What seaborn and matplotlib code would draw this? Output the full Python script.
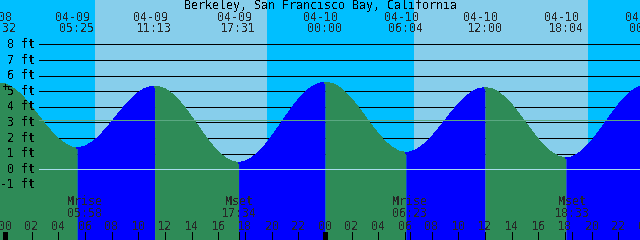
import numpy as np
import pandas as pd
import matplotlib
matplotlib.use("Agg")
import matplotlib.pyplot as plt
import seaborn as sns

# ---------------- data ----------------
title = "Berkeley, San Francisco Bay, California"

# tide level sampled every half hour, hours from 2023-04-09 00:00
hours = [-0.5, 0.0, 0.5, 1.0, 1.5, 2.0, 2.5, 3.0, 3.5, 4.0, 4.5, 5.0, 5.5, 6.0, 6.5, 7.0,
         7.5, 8.0, 8.5, 9.0, 9.5, 10.0, 10.5, 11.0, 11.5, 12.0, 12.5, 13.0, 13.5, 14.0,
         14.5, 15.0, 15.5, 16.0, 16.5, 17.0, 17.5, 18.0, 18.5, 19.0, 19.5, 20.0, 20.5,
         21.0, 21.5, 22.0, 22.5, 23.0, 23.5, 24.0, 24.5, 25.0, 25.5, 26.0, 26.5, 27.0,
         27.5, 28.0, 28.5, 29.0, 29.5, 30.0, 30.5, 31.0, 31.5, 32.0, 32.5, 33.0, 33.5,
         34.0, 34.5, 35.0, 35.5, 36.0, 36.5, 37.0, 37.5, 38.0, 38.5, 39.0, 39.5, 40.0,
         40.5, 41.0, 41.5, 42.0, 42.5, 43.0, 43.5, 44.0, 44.5, 45.0, 45.5, 46.0, 46.5,
         47.0, 47.5, 48.0]
level_ft = [5.50, 5.44, 5.23, 4.89, 4.46, 3.95, 3.40, 2.85, 2.35, 1.92, 1.60, 1.40, 1.35,
            1.45, 1.68, 2.03, 2.48, 2.99, 3.52, 4.04, 4.50, 4.88, 5.15, 5.29, 5.28, 5.12,
            4.82, 4.40, 3.88, 3.30, 2.69, 2.09, 1.54, 1.07, 0.71, 0.48, 0.40, 0.47, 0.69,
            1.04, 1.50, 2.05, 2.65, 3.27, 3.88, 4.43, 4.90, 5.25, 5.47, 5.55, 5.48, 5.26,
            4.91, 4.45, 3.92, 3.34, 2.76, 2.22, 1.75, 1.39, 1.15, 1.05, 1.10, 1.30, 1.62,
            2.04, 2.55, 3.09, 3.63, 4.14, 4.58, 4.92, 5.13, 5.20, 5.13, 4.91, 4.56, 4.10,
            3.57, 2.99, 2.41, 1.87, 1.40, 1.04, 0.80, 0.70, 0.76, 0.97, 1.32, 1.78, 2.33,
            2.92, 3.52, 4.09, 4.59, 4.98, 5.24, 5.35]

# high / low tides
ext_hours = [-0.467, 5.417, 11.217, 17.517, 24.0, 30.067, 36.0, 42.067, 48.1]
ext_level = [5.50, 1.35, 5.30, 0.40, 5.55, 1.05, 5.20, 0.70, 5.35]
ext_dates = ["04-08", "04-09", "04-09", "04-09", "04-10", "04-10", "04-10", "04-10", "04-11"]
ext_times = ["23:32", "05:25", "11:13", "17:31", "00:00", "06:04", "12:00", "18:04", "00:06"]

# moon events
moon_hours = [5.967, 17.567, 30.383, 42.55]
moon_names = ["Mrise", "Mset", "Mrise", "Mset"]
moon_times = ["05:58", "17:34", "06:23", "18:33"]

# daylight
sunrise_hours = [6.75, 30.68]
sunset_hours = [19.65, 43.73]

# axis
tick_hours = list(range(0, 49, 2))
tick_labels = ["%02d" % (h % 24) for h in tick_hours]
ft_levels = [8, 7, 6, 5, 4, 3, 2, 1, 0, -1]
mean_level = 3.14

# ---------------- style ----------------
NIGHT = "#00BFFF"
DAY = "#87CEEB"
FALL = "#2E8B57"
RISE = "#0000FF"
ZERO = "#A8DCEC"
MEAN = "#5AA882"

sns.set_style("white")
plt.rcParams["font.family"] = ["DejaVu Sans Mono", "DejaVu Sans"]
plt.rcParams["text.antialiased"] = False
FS = 8.4
LW1 = 0.72  # one pixel

W, H = 640, 240
XMIN, XMAX = -0.375, 47.625
YMIN, YMAX = -4.53, 10.85
PX_H = (XMAX - XMIN) / W  # hours per pixel


def px2h(px):
    return XMIN + px * PX_H


def yfrac(py):
    return 1 - py / H


fig = plt.figure(figsize=(6.4, 2.4), dpi=100)
ax = fig.add_axes([0, 0, 1, 1])
ax.set_xlim(XMIN, XMAX)
ax.set_ylim(YMIN, YMAX)
for s in ax.spines.values():
    s.set_visible(False)
ax.set_xticks([])
ax.set_yticks([])

# background night / day
ax.axvspan(XMIN, XMAX, color=NIGHT, lw=0, zorder=0)
for sr, ss in zip(sunrise_hours, sunset_hours):
    ax.axvspan(sr, ss, color=DAY, lw=0, zorder=0.5)

# black grid lines (covered by water)
for lv in ft_levels:
    if lv > 0:
        ax.hlines(lv, px2h(39), XMAX, color="black", lw=LW1, zorder=1, antialiased=False)

# water fill: blue when rising, green when falling
curve = pd.DataFrame({"t": hours + ext_hours, "h": level_ft + ext_level})
curve = curve.drop_duplicates("t").sort_values("t").reset_index(drop=True)
bounds = [curve.t.min()] + ext_hours + [curve.t.max()]
levels_b = [curve.h.iloc[0]] + ext_level + [curve.h.iloc[-1]]
for i in range(len(bounds) - 1):
    t0, t1 = bounds[i], bounds[i + 1]
    if t1 <= t0:
        continue
    seg = curve[(curve.t >= t0) & (curve.t <= t1)]
    if len(seg) < 2:
        continue
    rising = levels_b[i + 1] > levels_b[i] if i > 0 else True
    c = RISE if rising else FALL
    ax.fill_between(seg.t, YMIN, seg.h, color=c, lw=0, zorder=2, antialiased=False)
    sns.lineplot(x=seg.t.values, y=seg.h.values, color=c, lw=LW1, ax=ax,
                 zorder=2.1, legend=False, estimator=None, sort=True, antialiased=False)

# zero line and mean line
ax.hlines(0, px2h(39), XMAX, color=ZERO, lw=LW1, zorder=3, antialiased=False)
ax.hlines(mean_level, px2h(39), XMAX, color=MEAN, lw=LW1, zorder=3, antialiased=False)

# y labels
ytr = ax.get_yaxis_transform()
for lv in ft_levels:
    ax.text(35 / W, lv, f"{lv} ft", transform=ytr, ha="right", va="center",
            fontsize=FS, color="black", zorder=5)
ax.text(6 / W, yfrac(87), "+", transform=ax.transAxes, ha="center", va="center",
        fontsize=FS, color="black", zorder=5)

xtr = ax.get_xaxis_transform()
# title
ax.text(0.5, yfrac(6), title, transform=ax.transAxes, ha="center", va="center",
        fontsize=FS, color="black", zorder=5)
# extreme labels
for t, d, tm in zip(ext_hours, ext_dates, ext_times):
    ax.text(t - 4 * PX_H, yfrac(17.5), d, transform=xtr, ha="center", va="center",
            fontsize=FS, zorder=5)
    ax.text(t, yfrac(29), tm, transform=xtr, ha="center", va="center", fontsize=FS, zorder=5)

# moon labels
for t, n, tm in zip(moon_hours, moon_names, moon_times):
    ax.text(t, yfrac(201.5), n, transform=xtr, ha="center", va="center", fontsize=FS, zorder=5)
    ax.text(t, yfrac(213.5), tm, transform=xtr, ha="center", va="center", fontsize=FS, zorder=5)
    ax.vlines(t, yfrac(240), yfrac(232), transform=xtr, color="black", lw=LW1,
              zorder=5, antialiased=False)

# hour ticks
for t, lab in zip(tick_hours, tick_labels):
    ax.text(t, yfrac(226), lab, transform=xtr, ha="center", va="center", fontsize=FS, zorder=5)
    thick = (t % 24 == 0)
    ax.vlines(t, yfrac(240), yfrac(232), transform=xtr, color="black",
              lw=2.2 if thick else LW1, zorder=5, antialiased=False)

fig.savefig("out.png", dpi=100)
